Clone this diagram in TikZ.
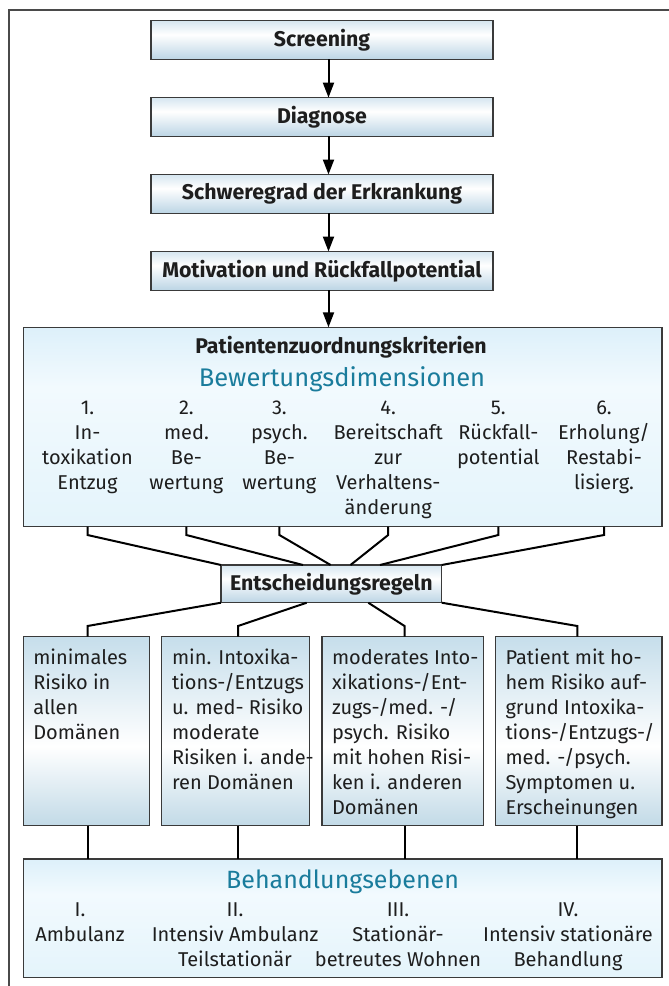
\documentclass[tikz,border=0pt]{standalone}
\usepackage{fontspec}
\setmainfont{Fira Sans}
\usetikzlibrary{arrows.meta}
\definecolor{tealtxt}{HTML}{1A7C9C}
\definecolor{boxline}{HTML}{3A3A3A}
\definecolor{framecol}{HTML}{4A4A4A}
\definecolor{txt}{HTML}{1E1E1E}
\definecolor{tt}{HTML}{D6E6F0}
\definecolor{tb}{HTML}{BCD5E5}
\definecolor{lt}{HTML}{C6DEEB}
\definecolor{lb}{HTML}{C2DAE7}
\definecolor{pt}{HTML}{DDF0FA}
\definecolor{pbm}{HTML}{F2FAFE}
\definecolor{pbb}{HTML}{E4F4FB}
\pgfdeclareverticalshading{topshade}{100bp}{color(0bp)=(tb); color(25bp)=(tb); color(57bp)=(white); color(75bp)=(tt); color(100bp)=(tt)}
\pgfdeclareverticalshading{lowshade}{100bp}{color(0bp)=(lb); color(25bp)=(lb); color(46bp)=(white); color(75bp)=(lt); color(100bp)=(lt)}
\pgfdeclareverticalshading{paleshade}{100bp}{color(0bp)=(pbb); color(25bp)=(pbb); color(60bp)=(pbm); color(75bp)=(pt); color(100bp)=(pt)}
\tikzset{
  every node/.style={inner sep=0pt, outer sep=0pt, text=txt},
  bodyfont/.style={font=\fontsize{20}{25}\selectfont},
  boldfont/.style={font=\bfseries\fontsize{21.3}{25}\selectfont},
  topbox/.style={draw=boxline, line width=1.2pt, shade, shading=topshade, minimum width=342pt, minimum height=38.6pt, boldfont},
  palebox/.style={draw=boxline, line width=1.2pt, shade, shading=paleshade},
  lowbox/.style={draw=boxline, line width=1.2pt, shade, shading=lowshade, minimum height=189pt},
  arr/.style={line width=2pt, -{Triangle[width=11pt,length=15pt]}},
  conn/.style={line width=2pt, line join=miter},
  coltext/.style={bodyfont, align=center, anchor=base},
  lowtext/.style={bodyfont, align=left, anchor=base west},
  headteal/.style={text=tealtxt, anchor=base},
}
\begin{document}
\begin{tikzpicture}[x=1pt, y=-1pt]
\useasboundingbox (0,0) rectangle (669,986);
% frame
\draw[framecol, line width=1.6pt] (669,10) -- (9,10) -- (9,986);

% top chain
\node[topbox] (s1) at (322,40) {Screening};
\node[topbox] (s2) at (322,116.9) {Diagnose};
\node[topbox] (s3) at (322,193.8) {Schweregrad der Erkrankung};
\node[topbox] (s4) at (322,270.8) {Motivation und Rückfallpotential};

% patient box
\node[palebox, minimum width=638.5pt, minimum height=199.4pt] (pb) at (342.75,427) {};
\node[boldfont, anchor=base] (pbt) at (341,353.3) {Patientenzuordnungskriterien};
\node[headteal, font=\fontsize{25.5}{30}\selectfont] (bew) at (342,386.7) {Bewertungsdimensionen};
\node[coltext] (d1) at (87.5,489.3) {1.\\In-\\toxikation\\Entzug};
\node[coltext] (d2) at (186.4,489.3) {2.\\med.\\Be-\\wertung};
\node[coltext] (d3) at (279.4,489.3) {3.\\psych.\\Be-\\wertung};
\node[coltext] (d4) at (388.2,514.3) {4.\\Bereitschaft\\zur\\Verhaltens-\\änderung};
\node[coltext] (d5) at (498.3,464.3) {5.\\Rückfall-\\potential};
\node[coltext] (d6) at (604,489.3) {6.\\Erholung/\\Restabi-\\lisierg.};

\coordinate (a1) at ([xshift=6.5pt]s1.south);
\coordinate (a2) at ([xshift=6.5pt]s2.south);
\coordinate (a3) at ([xshift=6.5pt]s3.south);
\coordinate (a4) at ([xshift=6.5pt]s4.south);
\draw[arr] (a1) -- (s2.north -| a1);
\draw[arr] (a2) -- (s3.north -| a2);
\draw[arr] (a3) -- (s4.north -| a3);
\draw[arr] (a4) -- (pb.north -| a4);

% decision box
\node[topbox, minimum width=220.7pt, minimum height=37.7pt] (ent) at (331.35,583.85) {Entscheidungsregeln};

\coordinate (u1) at (87.5,535);
\coordinate (u2) at (186.4,535);
\coordinate (u3) at (279.4,535);
\coordinate (u4) at (388.2,535);
\coordinate (u5) at (498.3,535);
\coordinate (u6) at (604,535);
\draw[conn] (pb.south -| u1) -- (u1) -- (ent.north west);
\draw[conn] (pb.south -| u2) -- (u2) -- ([xshift=82pt]ent.north west);
\draw[conn] (pb.south -| u3) -- (u3) -- ([xshift=109.6pt]ent.north west);
\draw[conn] (pb.south -| u4) -- (u4) -- ([xshift=129.5pt]ent.north west);
\draw[conn] (pb.south -| u5) -- (u5) -- ([xshift=159pt]ent.north west);
\draw[conn] (pb.south -| u6) -- (u6) -- (ent.north east);

% lower boxes
\node[lowbox, minimum width=125.8pt] (b1) at (86.4,731.2) {};
\node[lowbox, minimum width=147.8pt] (b2) at (235.4,731.2) {};
\node[lowbox, minimum width=161.3pt] (b3) at (402.65,731.2) {};
\node[lowbox, minimum width=166.3pt] (b4) at (578.85,731.2) {};

\node[lowtext] (t1) at (33.3,739.3) {minimales\\Risiko in\\allen\\Domänen};
\node[lowtext] (t2) at (172,789.3) {min. Intoxika-\\tions-/Entzugs\\u. med- Risiko\\moderate\\Risiken i. ande-\\ren Domänen};
\node[lowtext] (t3) at (332,814.3) {moderates Into-\\xikations-/Ent-\\zugs-/med. -/\\psych. Risiko\\mit hohen Risi-\\ken i. anderen\\Domänen};
\node[lowtext] (t4) at (505.5,814.3) {Patient mit ho-\\hem Risiko auf-\\grund Intoxika-\\tions-/Entzugs-/\\med. -/psych.\\Symptomen u.\\Erscheinungen};

\coordinate (v1) at (87.5,626);
\coordinate (v2) at (238,626);
\coordinate (v3) at (404.5,626);
\coordinate (v4) at (577.3,626);
\draw[conn] (ent.south west) -- (v1) -- (b1.north -| v1);
\draw[conn] ([xshift=85.7pt]ent.south west) -- (v2) -- (b2.north -| v2);
\draw[conn] ([xshift=147.3pt]ent.south west) -- (v3) -- (b3.north -| v3);
\draw[conn] (ent.south east) -- (v4) -- (b4.north -| v4);

% treatment box
\node[palebox, minimum width=638.5pt, minimum height=118.3pt] (beh) at (342.75,918.15) {};
\node[headteal, font=\fontsize{25}{28}\selectfont] (beht) at (342.6,888.3) {Behandlungsebenen};
\node[coltext] (e1) at (80,941.7) {I.\\Ambulanz};
\node[coltext] (e2) at (235,966.7) {II.\\Intensiv Ambulanz\\Teilstationär};
\node[coltext] (e3) at (398,966.7) {III.\\Stationär-\\betreutes Wohnen};
\node[coltext] (e4) at (568,966.7) {IV.\\Intensiv stationäre\\Behandlung};

\draw[conn] (b1.south -| v1) -- (beh.north -| v1);
\draw[conn] (b2.south -| v2) -- (beh.north -| v2);
\draw[conn] (b3.south -| v3) -- (beh.north -| v3);
\draw[conn] (b4.south -| v4) -- (beh.north -| v4);
\end{tikzpicture}
\end{document}
